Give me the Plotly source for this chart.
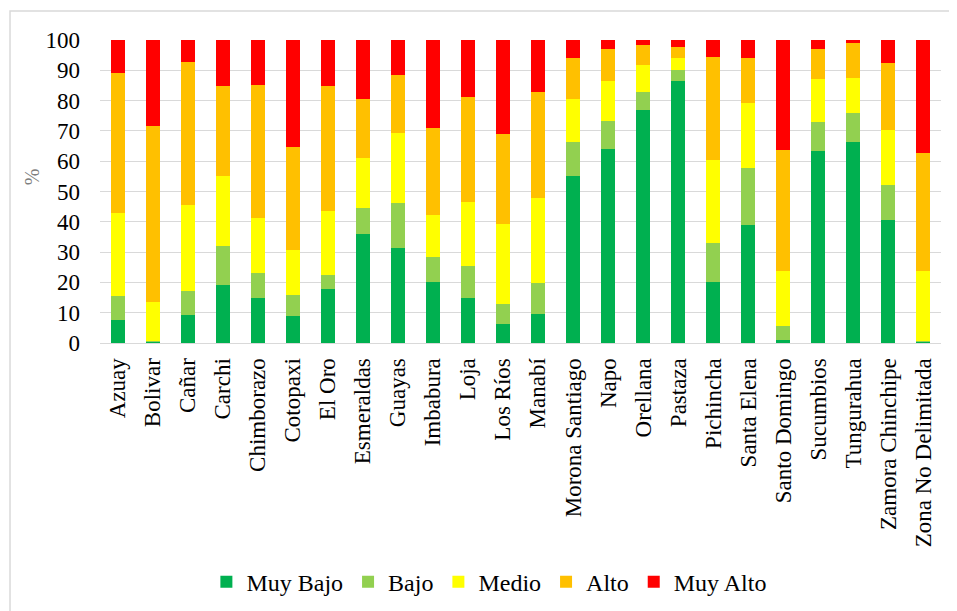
import plotly.graph_objects as go

# Provincias (eje x)
provincias = [
    "Azuay", "Bolivar", "Cañar", "Carchi", "Chimborazo", "Cotopaxi", "El Oro",
    "Esmeraldas", "Guayas", "Imbabura", "Loja", "Los Ríos", "Manabí",
    "Morona Santiago", "Napo", "Orellana", "Pastaza", "Pichincha", "Santa Elena",
    "Santo Domingo", "Sucumbios", "Tungurahua", "Zamora Chinchipe",
    "Zona No Delimitada",
]

# Porcentajes por categoría
muy_bajo = [7.5, 0.4, 9.2, 19.3, 14.7, 8.8, 17.7, 36.0, 31.2, 20.2, 14.7, 6.2,
            9.6, 55.0, 63.9, 77.0, 86.4, 20.2, 39.0, 1.1, 63.5, 66.4, 40.5, 0.4]
bajo = [8.1, 0.2, 8.0, 12.7, 8.5, 7.1, 4.6, 8.4, 14.9, 8.1, 10.6, 6.8,
        10.2, 11.4, 9.4, 6.0, 3.8, 12.8, 18.9, 4.6, 9.3, 9.4, 11.6, 0.1]
medio = [27.4, 12.8, 28.5, 23.0, 18.2, 14.9, 21.3, 16.5, 23.3, 14.0, 21.3, 26.3,
         27.9, 14.2, 13.1, 8.9, 3.7, 27.5, 21.2, 17.9, 14.4, 11.8, 18.2, 23.1]
alto = [46.0, 58.1, 47.1, 29.7, 43.7, 33.9, 41.1, 19.6, 19.1, 28.8, 34.6, 29.6,
        35.2, 13.3, 10.6, 6.4, 3.9, 34.0, 14.8, 40.2, 9.8, 11.5, 22.1, 39.0]
muy_alto = [11.0, 28.5, 7.2, 15.3, 14.9, 35.3, 15.3, 19.5, 11.5, 28.9, 18.8, 31.1,
            17.1, 6.1, 3.0, 1.7, 2.2, 5.5, 6.1, 36.2, 3.0, 0.9, 7.6, 37.4]

series = [
    ("Muy Bajo", muy_bajo, "#00B050"),
    ("Bajo", bajo, "#92D050"),
    ("Medio", medio, "#FFFF00"),
    ("Alto", alto, "#FFC000"),
    ("Muy Alto", muy_alto, "#FF0000"),
]

FONT = "Liberation Serif"

fig = go.Figure()
for name, values, color in series:
    fig.add_trace(go.Bar(
        x=provincias,
        y=values,
        name=name,
        marker=dict(color=color, line=dict(width=0)),
    ))

# the page body keeps its 8px margin, so the figure is 8px smaller
fig.update_layout(
    barmode="stack",
    bargap=0.6,
    width=949,
    height=603,
    margin=dict(l=92, r=16, t=32, b=268),
    plot_bgcolor="white",
    paper_bgcolor="white",
    font=dict(family=FONT, size=23, color="black"),
    legend=dict(
        orientation="h",
        x=0.463, xanchor="center",
        yref="container",
        y=0.048, yanchor="middle",
        font=dict(family=FONT, size=24, color="black"),
        traceorder="normal",
        itemwidth=30,
    ),
    shapes=[dict(
        type="rect", xref="paper", yref="paper",
        x0=-0.107, x1=1.1, y0=-1.2, y1=1.096,
        line=dict(color="#d9d9d9", width=1.5),
    )],
    annotations=[dict(
        text="%", xref="paper", yref="paper",
        x=-0.081, y=0.55, xanchor="center", yanchor="middle",
        textangle=-90, showarrow=False,
        font=dict(family=FONT, size=20, color="#7f7f7f"),
    )],
)

fig.update_yaxes(
    range=[0, 100],
    dtick=10,
    automargin=False,
    showgrid=True,
    gridcolor="#d9d9d9",
    gridwidth=1,
    zeroline=False,
    showline=False,
    ticks="",
    ticklabelstandoff=19,
    tickfont=dict(family=FONT, size=23, color="black"),
)
fig.update_xaxes(
    tickangle=-90,
    automargin=False,
    showline=True,
    linecolor="#d9d9d9",
    linewidth=1,
    ticks="",
    ticklabelstandoff=5,
    showgrid=False,
    tickfont=dict(family=FONT, size=23, color="black"),
)

fig.write_html("out.html")
